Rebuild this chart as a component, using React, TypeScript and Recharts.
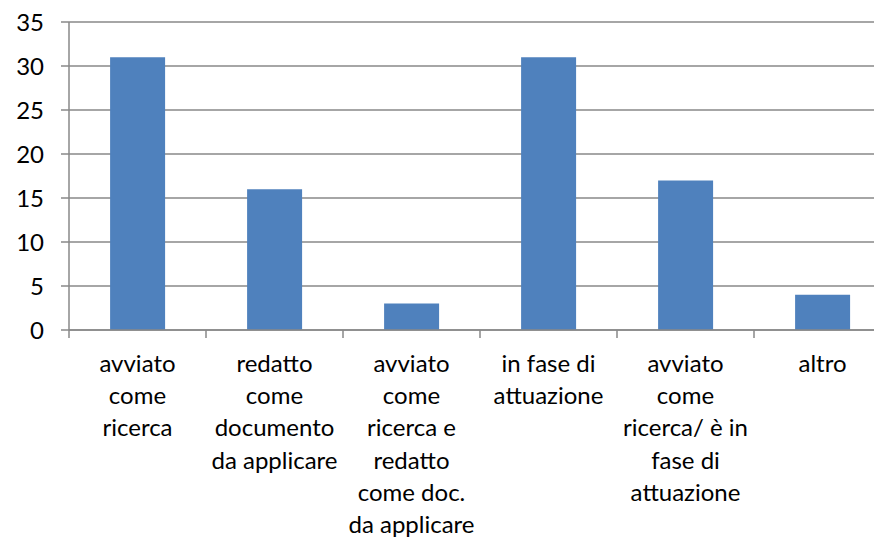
import React from "react";
import { BarChart, Bar, XAxis, YAxis, CartesianGrid } from "recharts";

const categories: string[] = [
  "avviato\ncome\nricerca",
  "redatto\ncome\ndocumento\nda applicare",
  "avviato\ncome\nricerca e\nredatto\ncome doc.\nda applicare",
  "in fase di\nattuazione",
  "avviato\ncome\nricerca/ è in\nfase di\nattuazione",
  "altro",
];
const values: number[] = [31, 16, 3, 31, 17, 4];
const yTicks: number[] = [0, 5, 10, 15, 20, 25, 30, 35];

const data = categories.map((name, i) => ({ name, value: values[i] }));

const FONT = "Lato, Carlito, 'Open Sans', sans-serif";
const GRID = "#898989";

const CatTick = (props: any) => {
  const { x, y, payload, index } = props;
  const half: number =
    payload && typeof payload.offset === "number" && payload.offset > 0
      ? payload.offset
      : 68.5;
  const lines: string[] = String(payload.value).split("\n");
  const last = index === categories.length - 1;
  return (
    <g>
      <line
        x1={x - half}
        x2={x - half}
        y1={y}
        y2={y + 8}
        stroke={GRID}
        strokeWidth={1.5}
      />
      {last && (
        <line
          x1={x + half}
          x2={x + half}
          y1={y}
          y2={y + 8}
          stroke={GRID}
          strokeWidth={1.5}
        />
      )}
      <text
        x={x}
        y={y}
        textAnchor="middle"
        fontFamily={FONT}
        fontSize={24}
        fill="#000"
      >
        {lines.map((l, i) => (
          <tspan key={i} x={x} dy={i === 0 ? 42 : 32.2}>
            {l}
          </tspan>
        ))}
      </text>
    </g>
  );
};

export default function App() {
  return (
    <div
      style={{
        position: "absolute",
        left: 0,
        top: 0,
        width: 874,
        height: 539,
        overflow: "hidden",
        background: "#fff",
      }}
    >
      <BarChart
        width={895}
        height={539}
        data={data}
        margin={{ top: 22, right: 4, bottom: 0, left: 0 }}
        barCategoryGap="30%"
      >
        <CartesianGrid vertical={false} stroke={GRID} strokeWidth={1.5} />
        <XAxis
          dataKey="name"
          type="category"
          stroke={GRID}
          strokeWidth={1.5}
          tickLine={false}
          tickSize={0}
          tickMargin={0}
          interval={0}
          height={209}
          tick={<CatTick />}
        />
        <YAxis
          domain={[0, 35]}
          ticks={yTicks}
          width={69}
          tickSize={8}
          tickMargin={17}
          interval={0}
          stroke={GRID}
          strokeWidth={1.5}
          tick={{ fill: "#000", fontSize: 24, fontFamily: FONT }}
        />
        <Bar dataKey="value" fill="#4F81BD" isAnimationActive={false} />
      </BarChart>
    </div>
  );
}
